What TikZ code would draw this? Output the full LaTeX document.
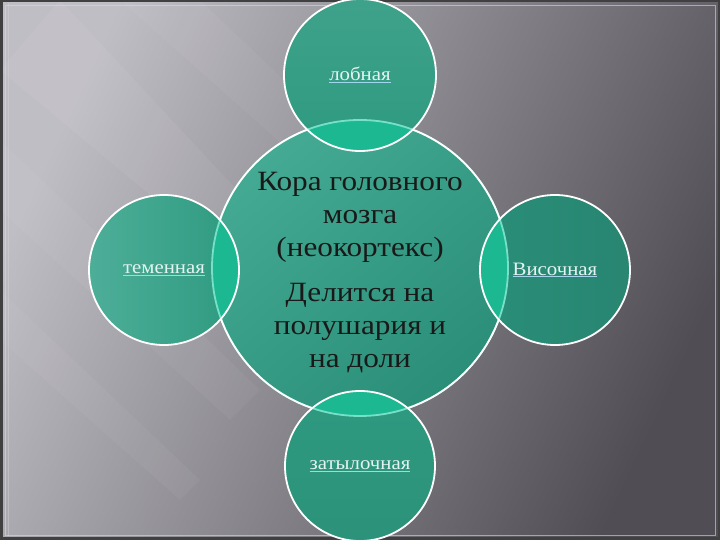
\documentclass[tikz,border=0pt]{standalone}
\usepackage{fontspec}
\setmainfont{Liberation Serif}
\usetikzlibrary{calc}
\definecolor{bgLight}{RGB}{192,190,197}
\definecolor{bgDark}{RGB}{80,78,84}
\definecolor{lobeTeal}{RGB}{46,154,128}
\definecolor{lobeLight}{RGB}{68,170,147}
\definecolor{lobeDark}{RGB}{42,142,120}
\definecolor{lensTeal}{RGB}{28,184,146}
\definecolor{seamTeal}{RGB}{120,224,200}
\definecolor{labelWhite}{RGB}{228,244,242}
\definecolor{ulBlue}{RGB}{160,214,238}
\def\lobelabel#1{{\color{ulBlue}\underline{\textcolor{labelWhite}{#1}}}}

\begin{document}
\begin{tikzpicture}[x=1bp, y=1bp]
		%%%%% START %%%%%
		\useasboundingbox (0, 0) rectangle (720, 540);
		\shade[top color=bgLight, bottom color=bgDark, shading angle=65] (0, 0) rectangle (720, 540);
		
		% faint streaks
		\fill[white, opacity=0.05] (0, 470) -- (60, 540) -- (330, 250) -- (300, 220) -- cycle;
		\fill[white, opacity=0.04] (0, 330) -- (0, 400) -- (260, 150) -- (230, 120) -- cycle;
		\fill[white, opacity=0.04] (0, 200) -- (0, 250) -- (200, 60) -- (180, 40) -- cycle;
		\fill[white, opacity=0.04] (120, 540) -- (200, 540) -- (420, 330) -- (390, 300) -- cycle;
		
		% frame
		\draw[black!75, line width=2.5bp] (1.25, 1.25) rectangle (718.75, 538.75);
		\draw[white!70!gray, opacity=0.6, line width=0.8bp] (5, 5) rectangle (715, 535);
		\draw[white!70!gray, opacity=0.4, line width=0.6bp] (8, 3.5) -- (8, 536.5);
		
		\coordinate (core) at (360, 272);
		\coordinate (frontal) at (360, 465);
		\coordinate (parietal) at (164, 270);
		\coordinate (temporal) at (555, 270);
		\coordinate (occipital) at (360, 74);
		
		% big circle
		\shade[top color=lobeLight, bottom color=lobeDark, shading angle=40] (core) circle (148bp);
		
		% small circles
		\shade[top color=lobeTeal!92!white, bottom color=lobeTeal] (frontal) circle (76bp);
		\shade[left color=lobeLight!95!white, right color=lobeTeal] (parietal) circle (75bp);
		\shade[left color=lobeDark, right color=lobeDark!94!black] (temporal) circle (75bp);
		\shade[top color=lobeTeal, bottom color=lobeTeal!95!black] (occipital) circle (75bp);
		
		\begin{scope}
			\clip (core) circle (148bp);
			\fill[lensTeal] (frontal) circle (76bp);
			\fill[lensTeal] (parietal) circle (75bp);
			\fill[lensTeal] (temporal) circle (75bp);
			\fill[lensTeal] (occipital) circle (75bp);
		\end{scope}
		
		% rim of the big circle: pale inside the small circles
		\draw[seamTeal, line width=1.8bp] (core) circle (148bp);
		\begin{scope}[even odd rule]
			\clip (0, 0) rectangle (720, 540) (frontal) circle (76bp) (parietal) circle (75bp) (temporal) circle (75bp) (occipital) circle (75bp);
			\draw[white, line width=1.8bp] (core) circle (148bp);
		\end{scope}
		
		\draw[white, line width=1.8bp] (frontal) circle (76bp);
		\draw[white, line width=1.8bp] (parietal) circle (75bp);
		\draw[white, line width=1.8bp] (temporal) circle (75bp);
		\draw[white, line width=1.8bp] (occipital) circle (75bp);
		
		% texts
		\node[font=\fontsize{28}{33}\selectfont, align=center, text=black!90, xscale=1.12, transform shape] (title) at (360, 323) {Кора головного\\мозга\\(неокортекс)};
		\node[font=\fontsize{28}{33}\selectfont, align=center, text=black!90, xscale=1.12, transform shape] (split) at (360, 212) {Делится на\\полушария и\\на доли};
		
		\node[font=\fontsize{19}{22}\selectfont, xscale=1.1, transform shape] (frontalText) at (frontal) {\lobelabel{лобная}};
		\node[font=\fontsize{19}{22}\selectfont, xscale=1.1, transform shape] (parietalText) at (parietal) {\lobelabel{теменная}};
		\node[font=\fontsize{19}{22}\selectfont, xscale=1.1, transform shape] (temporalText) at (temporal) {\lobelabel{Височная}};
		\node[font=\fontsize{19}{22}\selectfont, xscale=1.1, transform shape] (occipitalText) at (occipital) {\lobelabel{затылочная}};
		%%%%% END %%%%%
\end{tikzpicture}
\end{document}
